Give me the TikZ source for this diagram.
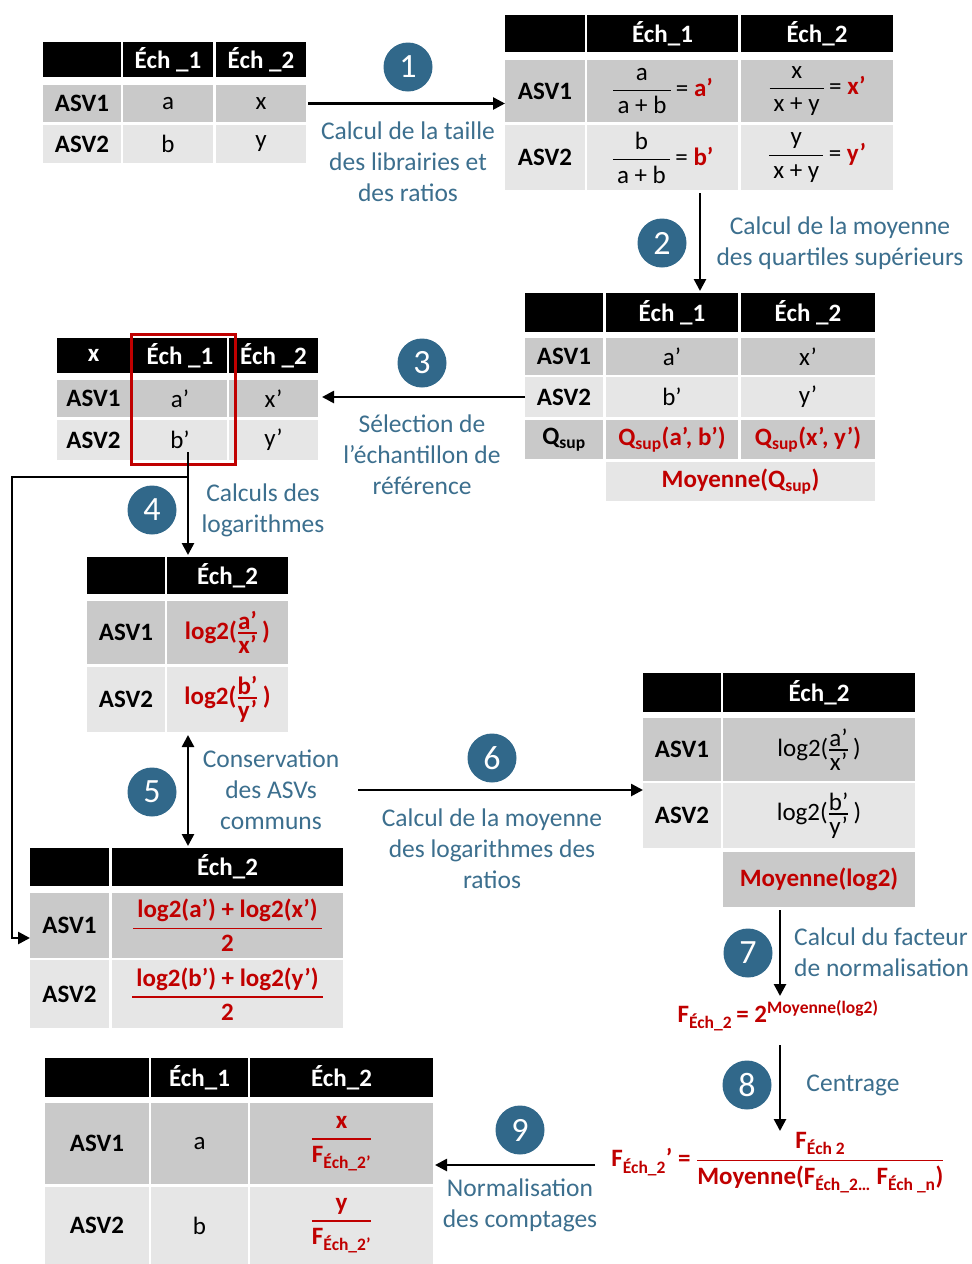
\documentclass[tikz,border=0pt]{standalone}
\usepackage{fontspec}
\setmainfont{Carlito}
\usepackage{amsmath}
\usetikzlibrary{arrows.meta}
\definecolor{cred}{HTML}{C00000}
\definecolor{gA}{HTML}{C9C9C9}
\definecolor{gB}{HTML}{E6E6E6}
\definecolor{circ}{HTML}{31688A}
\definecolor{lbl}{HTML}{3C6F8E}
\newcommand{\fsz}{\fontsize{25}{30}\selectfont}
\newcommand{\lsz}{\fontsize{25.5}{31}\selectfont}
\newcommand{\nsz}{\fontsize{34}{34}\selectfont}
\newcommand{\ssz}{\fontsize{25}{26}\selectfont}
\newcommand{\fmz}{\fontsize{25}{29}\selectfont}
\newcommand{\tc}[7]{\node[cellb,#6,minimum width={(#4-#2)*1pt},minimum height={(#5-#3)*1pt}] (#1) at ({(#2+#4)/2},{(#3+#5)/2}) {#7};}
\newcommand{\bfr}[3]{$\genfrac{}{}{#1}{0}{\mbox{#2}}{\mbox{#3}}$}
\newcommand{\sfr}[2]{$\genfrac{}{}{1.6pt}{1}{\mbox{\ssz #1}}{\mbox{\ssz #2}}$}
\tikzset{
  cellb/.style={inner sep=0pt, outer sep=0pt, draw=none, font=\fsz, align=center},
  hd/.style={fill=black, text=white, font=\fsz\bfseries},
  ra/.style={fill=gA},
  rb/.style={fill=gB},
  bo/.style={font=\fsz\bfseries},
  rd/.style={font=\fsz\bfseries, text=cred},
  num/.style={circle, fill=circ, text=white, minimum size=49pt, inner sep=0pt, font=\nsz},
  lab/.style={text=lbl, font=\lsz, align=center, inner sep=0pt},
  arr/.style={line width=2.6pt, -{Triangle[length=12pt,width=12pt]}},
  darr/.style={line width=2.6pt, {Triangle[length=12pt,width=12pt]}-{Triangle[length=12pt,width=12pt]}},
  fm/.style={text=cred, font=\fmz\bfseries, inner sep=0pt},
}
\begin{document}
\begin{tikzpicture}[x=1pt,y=-1pt]
\useasboundingbox (0,0) rectangle (972,1264);
\fill[white] (0,0) rectangle (972,1264);

% Table 1
\tc{t1h1}{43}{42}{121}{77}{hd}{}
\tc{t1h2}{123}{42}{213}{77}{hd}{Éch \_1}
\tc{t1h3}{216}{42}{306}{77}{hd}{Éch \_2}
\tc{t1r1c1}{43}{85}{121}{122}{ra,bo}{ASV1}
\tc{t1r1c2}{123}{85}{213}{122}{ra}{a}
\tc{t1r1c3}{216}{85}{306}{122}{ra}{x}
\tc{t1r2c1}{43}{125}{121}{163}{rb,bo}{ASV2}
\tc{t1r2c2}{123}{125}{213}{163}{rb}{b}
\tc{t1r2c3}{216}{125}{306}{163}{rb}{y}

% Table 2
\tc{t2h1}{505}{15}{585}{52}{hd}{}
\tc{t2h2}{587}{15}{738}{52}{hd}{Éch\_1}
\tc{t2h3}{741}{15}{893}{52}{hd}{Éch\_2}
\tc{t2r1c1}{505}{60}{585}{122}{ra,bo}{ASV1}
\tc{t2r1c2}{587}{60}{738}{122}{ra}{\bfr{1pt}{a}{\,a + b\,}\,= \textcolor{cred}{\bfseries a’}}
\tc{t2r1c3}{741}{60}{893}{122}{ra}{\bfr{1pt}{x}{\,x + y\,}\,= \textcolor{cred}{\bfseries x’}}
\tc{t2r2c1}{505}{125}{585}{190}{rb,bo}{ASV2}
\tc{t2r2c2}{587}{125}{738}{190}{rb}{\bfr{1pt}{b}{\,a + b\,}\,= \textcolor{cred}{\bfseries b’}}
\tc{t2r2c3}{741}{125}{893}{190}{rb}{\bfr{1pt}{y}{\,x + y\,}\,= \textcolor{cred}{\bfseries y’}}

% Table 3
\tc{t3h1}{525}{293}{603}{332}{hd}{}
\tc{t3h2}{606}{293}{738}{332}{hd}{Éch \_1}
\tc{t3h3}{741}{293}{875}{332}{hd}{Éch \_2}
\tc{t3r1c1}{525}{338}{603}{375}{ra,bo}{ASV1}
\tc{t3r1c2}{606}{338}{738}{375}{ra}{a’}
\tc{t3r1c3}{741}{338}{875}{375}{ra}{x’}
\tc{t3r2c1}{525}{377}{603}{417}{rb,bo}{ASV2}
\tc{t3r2c2}{606}{377}{738}{417}{rb}{b’}
\tc{t3r2c3}{741}{377}{875}{417}{rb}{y’}
\tc{t3r3c1}{525}{420}{603}{459}{ra,bo}{Q\textsubscript{sup}}
\tc{t3r3c2}{606}{420}{738}{459}{ra,rd}{Q\textsubscript{sup}(a’, b’)}
\tc{t3r3c3}{741}{420}{875}{459}{ra,rd}{Q\textsubscript{sup}(x’, y’)}
\tc{t3r4}{606}{462}{875}{501}{rb,rd}{Moyenne(Q\textsubscript{sup})}

% Table 4
\tc{t4h1}{57}{338}{130}{373}{hd}{x}
\tc{t4h2}{133}{338}{227}{373}{hd}{Éch \_1}
\tc{t4h3}{229}{338}{318}{373}{hd}{Éch \_2}
\tc{t4r1c1}{57}{380}{130}{417}{ra,bo}{ASV1}
\tc{t4r1c2}{133}{380}{227}{417}{ra}{a’}
\tc{t4r1c3}{229}{380}{318}{417}{ra}{x’}
\tc{t4r2c1}{57}{420}{130}{460}{rb,bo}{ASV2}
\tc{t4r2c2}{133}{420}{227}{460}{rb}{b’}
\tc{t4r2c3}{229}{420}{318}{460}{rb}{y’}
\draw[cred, line width=3pt] (131.5,334.5) rectangle (235.5,464.5);

% Table 5
\tc{t5h1}{87}{557}{165}{594}{hd}{}
\tc{t5h2}{167}{557}{288}{594}{hd}{Éch\_2}
\tc{t5r1c1}{87}{601}{165}{664}{ra,bo}{ASV1}
\tc{t5r1c2}{167}{601}{288}{664}{ra,rd}{log2(\sfr{a’}{x’}\,)}
\tc{t5r2c1}{87}{667}{165}{732}{rb,bo}{ASV2}
\tc{t5r2c2}{167}{667}{288}{732}{rb,rd}{log2(\sfr{b’}{y’}\,)}

% Table 6
\tc{t6h1}{30}{848}{109}{886}{hd}{}
\tc{t6h2}{112}{848}{343}{886}{hd}{Éch\_2}
\tc{t6r1c1}{30}{893}{109}{958}{ra,bo}{ASV1}
\tc{t6r1c2}{112}{893}{343}{958}{ra,rd}{\bfr{1.8pt}{\,log2(a’) + log2(x’)\,}{2}}
\tc{t6r2c1}{30}{960}{109}{1028}{rb,bo}{ASV2}
\tc{t6r2c2}{112}{960}{343}{1028}{rb,rd}{\bfr{1.8pt}{\,log2(b’) + log2(y’)\,}{2}}

% Table 7
\tc{t7h1}{643}{673}{721}{712}{hd}{}
\tc{t7h2}{723}{673}{915}{712}{hd}{Éch\_2}
\tc{t7r1c1}{643}{718}{721}{781}{ra,bo}{ASV1}
\tc{t7r1c2}{723}{718}{915}{781}{ra}{log2(\sfr{a’}{x’}\,)}
\tc{t7r2c1}{643}{783}{721}{848}{rb,bo}{ASV2}
\tc{t7r2c2}{723}{783}{915}{848}{rb}{log2(\sfr{b’}{y’}\,)}
\tc{t7r3}{723}{852}{915}{907}{ra,rd}{Moyenne(log2)}

% Table 8
\tc{t8h1}{45}{1058}{149}{1097}{hd}{}
\tc{t8h2}{151}{1058}{248}{1097}{hd}{Éch\_1}
\tc{t8h3}{250}{1058}{433}{1097}{hd}{Éch\_2}
\tc{t8r1c1}{45}{1103}{149}{1184}{ra,bo}{ASV1}
\tc{t8r1c2}{151}{1103}{248}{1184}{ra}{a}
\tc{t8r1c3}{250}{1103}{433}{1184}{ra,rd}{\bfr{1.8pt}{\,x\,}{F\textsubscript{Éch\_2’}}}
\tc{t8r2c1}{45}{1187}{149}{1264}{rb,bo}{ASV2}
\tc{t8r2c2}{151}{1187}{248}{1264}{rb}{b}
\tc{t8r2c3}{250}{1187}{433}{1264}{rb,rd}{\bfr{1.8pt}{\,y\,}{F\textsubscript{Éch\_2’}}}

% Formulas
\node[fm] (f1) at (778,1016) {F\textsubscript{Éch\_2}\,= 2\textsuperscript{Moyenne(log2)}};
\node[fm] (f2) at (778,1163) {F\textsubscript{Éch\_2}’ = \bfr{1.6pt}{F\textsubscript{Éch 2}}{Moyenne(F\textsubscript{Éch\_2…} F\textsubscript{Éch \_n})}};

% Circles
\node[num] (c1) at (408,67) {1};
\node[num] (c2) at (662,243) {2};
\node[num] (c3) at (422,363) {3};
\node[num] (c4) at (152,510) {4};
\node[num] (c5) at (152,792) {5};
\node[num] (c6) at (492,758) {6};
\node[num] (c7) at (748,953) {7};
\node[num] (c8) at (747,1085) {8};
\node[num] (c9) at (520,1130) {9};

% Labels
\node[lab] (l1) at (408,162) {Calcul de la taille\\des librairies et\\des ratios};
\node[lab] (l2) at (840,243) {Calcul de la moyenne\\des quartiles supérieurs};
\node[lab] (l3) at (422,455) {Sélection de\\l’échantillon de\\référence};
\node[lab] (l4) at (263,510) {Calculs des\\logarithmes};
\node[lab] (l5) at (271,790) {Conservation\\des ASVs\\communs};
\node[lab] (l6) at (492,849) {Calcul de la moyenne\\des logarithmes des\\ratios};
\node[lab, align=left, anchor=west] (l7) at (794,952) {Calcul du facteur\\de normalisation};
\node[lab] (l8) at (853,1085) {Centrage};
\node[lab] (l9) at (520,1205) {Normalisation\\des comptages};

% Connector end points
\coordinate (a2s) at (700,193);
\coordinate (a2e) at (700,291);
\coordinate (a4s) at (188,452);
\coordinate (lk1) at (188,477);
\coordinate (lk2) at (12,700);
\coordinate (lk3) at (30,938);
\coordinate (a5s) at (188,735);
\coordinate (a5e) at (188,846);
\coordinate (a6s) at (358,790);
\coordinate (a7s) at (780,910);
\coordinate (a7e) at (780,996);
\coordinate (a8s) at (780,1045);
\coordinate (a8e) at (780,1131);
\coordinate (a9s) at (595,1165);

% Connectors
\draw[arr] ([xshift=2pt]t1r1c3.east) -- (t1r1c3.east -| t2r1c1.west);
\draw[arr] (a2s) -- (a2e);
\draw[arr] (t3r2c1.west) -- ([xshift=4pt]t3r2c1.west -| t4r1c3.east);
\draw[arr] (a4s) -- ([yshift=2pt]a4s |- t5h2.north);
\draw[arr] (lk1) -| (lk2) |- (lk3);
\draw[darr] (a5s) -- (a5e);
\draw[arr] (a6s) -- (a6s -| t7r2c1.west);
\draw[arr] (a7s) -- (a7e);
\draw[arr] (a8s) -- (a8e);
\draw[arr] (a9s) -- ([xshift=2pt]a9s -| t8r1c3.east);
\end{tikzpicture}
\end{document}
